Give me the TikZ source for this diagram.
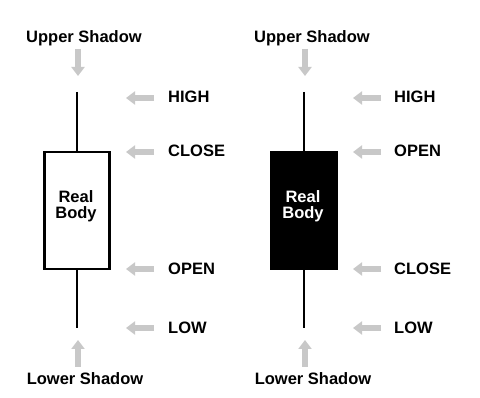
\documentclass[tikz,border=0pt]{standalone}
\usepackage{fontspec}
\setmainfont{Liberation Sans}
\usetikzlibrary{arrows.meta}
\definecolor{arrgray}{RGB}{200,200,200}
\tikzset{
  lbl/.style={font=\bfseries\fontsize{16.5}{16}\selectfont, inner sep=0pt, text=black, anchor=base},
  hlbl/.style={lbl, anchor=base west},
  garrow/.style={draw=arrgray, line width=5.5pt, -{Triangle[width=13pt,length=9pt]}},
  wick/.style={line width=2.5pt, black},
  bodyw/.style={draw=black, line width=2.5pt, fill=white},
  bodyb/.style={draw=black, line width=2.5pt, fill=black},
  bodytxt/.style={font=\bfseries\fontsize{16.5}{16}\selectfont, align=center, inner sep=0pt, anchor=base}
}
\begin{document}
\begin{tikzpicture}[x=1pt,y=-1pt]
\useasboundingbox (0,0) rectangle (480,398);
% left candle
\coordinate (lt) at (77,92);
\coordinate (lb) at (77,328);
\draw[wick] (lt) -- (lb);
\node[bodyw, minimum width=65, minimum height=117] (lbody) at (77,210.5) {};
\node[bodytxt] (ltxt) at (76,219) {Real\\Body};
% right candle
\coordinate (rt) at (304,92);
\coordinate (rb) at (304,328);
\draw[wick] (rt) -- (rb);
\node[bodyb, minimum width=66, minimum height=117] (rbody) at (304,210.5) {};
\node[bodytxt, text=white] (rtxt) at (303,219) {Real\\Body};
% top/bottom labels
\node[lbl] (lus) at (84,43) {Upper Shadow};
\node[lbl] (rus) at (312,43) {Upper Shadow};
\node[lbl] (lls) at (85,385) {Lower Shadow};
\node[lbl] (rls) at (313,385) {Lower Shadow};
\coordinate (la1) at (78,49); \coordinate (la2) at (78,76);
\coordinate (ra1) at (305,49); \coordinate (ra2) at (305,76);
\coordinate (lb1) at (78,367); \coordinate (lb2) at (78,340);
\coordinate (rb1) at (305,367); \coordinate (rb2) at (305,340);
\draw[garrow] (la1) -- (la2);
\draw[garrow] (ra1) -- (ra2);
\draw[garrow] (lb1) -- (lb2);
\draw[garrow] (rb1) -- (rb2);
% side labels left
\node[hlbl] (lhigh) at (168,103) {HIGH};
\node[hlbl] (lclose) at (168,157) {CLOSE};
\node[hlbl] (lopen) at (168,275) {OPEN};
\node[hlbl] (llow) at (168,334) {LOW};
\foreach \n/\y in {lh/98,lc/152,lo/269,ll/328}{
  \coordinate (\n s) at (154,\y); \coordinate (\n e) at (126,\y);
  \draw[garrow] (\n s) -- (\n e);
}
% side labels right
\node[hlbl] (rhigh) at (394,103) {HIGH};
\node[hlbl] (ropen) at (394,157) {OPEN};
\node[hlbl] (rclose) at (394,275) {CLOSE};
\node[hlbl] (rlow) at (394,334) {LOW};
\foreach \n/\y in {rh/98,ro/152,rc/269,rl/328}{
  \coordinate (\n s) at (381,\y); \coordinate (\n e) at (353,\y);
  \draw[garrow] (\n s) -- (\n e);
}
\end{tikzpicture}
\end{document}
